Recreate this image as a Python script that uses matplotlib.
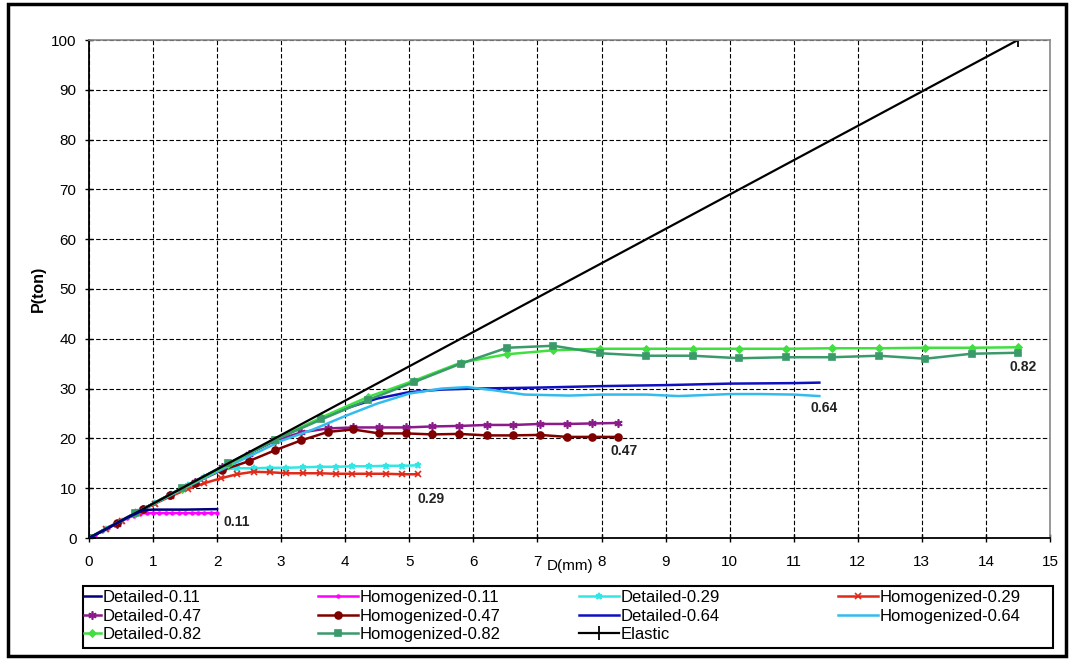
import matplotlib.pyplot as plt
from matplotlib.patches import Rectangle

plt.rcParams['font.family'] = ['Liberation Sans', 'DejaVu Sans']

# ---- data ----
x_d11 = [0, 0.3, 0.6, 0.85, 1.0, 1.5, 2.0]
y_d11 = [0, 2.0, 4.1, 5.6, 5.7, 5.7, 5.8]

x_h11 = [0, 0.1, 0.2, 0.3, 0.4, 0.5, 0.6, 0.7, 0.8, 0.9, 1.0,
         1.1, 1.2, 1.3, 1.4, 1.5, 1.6, 1.7, 1.8, 1.9, 2.0]
y_h11 = [0, 0.7, 1.4, 2.1, 2.7, 3.4, 4.0, 4.5, 4.9, 5.0, 5.0,
         5.0, 5.0, 5.0, 5.0, 5.0, 5.0, 5.0, 5.0, 5.0, 5.0]

x_29 = [0, 0.26, 0.51, 0.77, 1.03, 1.28, 1.54, 1.80, 2.06, 2.31, 2.57,
        2.83, 3.08, 3.34, 3.60, 3.85, 4.11, 4.37, 4.63, 4.88, 5.14]
y_d29 = [0, 1.8, 3.5, 5.3, 7.1, 8.8, 10.6, 12.3, 13.7, 14.0, 14.0,
         14.1, 14.1, 14.2, 14.3, 14.3, 14.4, 14.4, 14.5, 14.5, 14.6]
y_h29 = [0, 1.8, 3.5, 5.2, 6.9, 8.4, 9.8, 11.0, 12.0, 12.8, 13.3,
         13.2, 13.0, 13.0, 13.0, 12.9, 12.9, 12.9, 12.9, 12.8, 12.8]

x_47 = [0, 0.43, 0.85, 1.26, 1.65, 2.07, 2.49, 2.90, 3.31, 3.73, 4.12,
        4.53, 4.95, 5.36, 5.78, 6.21, 6.62, 7.04, 7.46, 7.85, 8.26]
y_d47 = [0, 2.9, 5.8, 8.6, 11.3, 14.2, 16.9, 19.5, 21.2, 22.0, 22.2,
         22.2, 22.2, 22.4, 22.5, 22.7, 22.7, 22.9, 22.9, 23.0, 23.1]
y_h47 = [0, 3.0, 5.9, 8.6, 11.1, 13.6, 15.4, 17.6, 19.6, 21.3, 21.8,
         21.0, 21.0, 20.8, 20.9, 20.6, 20.6, 20.7, 20.3, 20.3, 20.3]

x_d64 = [0, 1, 2, 3, 3.5, 4, 4.5, 5, 5.5, 6, 7, 8, 9, 10, 11, 11.4]
y_d64 = [0, 6.9, 13.8, 20.3, 23.3, 26.0, 28.0, 29.3, 29.8, 30.0, 30.2,
         30.5, 30.7, 31.0, 31.1, 31.2]
x_h64 = [0, 1, 2, 3, 3.5, 4, 4.5, 5, 5.5, 5.9, 6.3, 6.8, 7.5, 8, 8.7,
         9.2, 10, 10.5, 11, 11.4]
y_h64 = [0, 6.8, 13.3, 19.5, 21.8, 24.5, 27.0, 29.0, 30.0, 30.3, 29.7,
         28.8, 28.6, 28.8, 28.8, 28.5, 28.9, 28.9, 28.8, 28.5]

x_82 = [0, 0.725, 1.45, 2.175, 2.9, 3.625, 4.35, 5.075, 5.8, 6.525, 7.25,
        7.975, 8.7, 9.425, 10.15, 10.875, 11.6, 12.325, 13.05, 13.775, 14.5]
y_d82 = [0, 5.0, 9.9, 14.8, 19.7, 24.2, 28.3, 31.6, 35.2, 36.9, 37.7,
         38.0, 38.0, 38.0, 38.0, 38.0, 38.1, 38.1, 38.2, 38.2, 38.3]
y_h82 = [0, 5.0, 10.0, 15.0, 19.7, 23.8, 27.7, 31.3, 35.0, 38.2, 38.6,
         37.1, 36.6, 36.6, 36.1, 36.3, 36.3, 36.6, 36.0, 37.0, 37.2]

x_el = [0, 14.5]
y_el = [0, 100]

end_labels = ['0.11', '0.29', '0.47', '0.64', '0.82']
end_x = [2.1, 5.12, 8.14, 11.26, 14.37]
end_y = [3.3, 7.9, 17.5, 26.1, 34.3]

fig = plt.figure(figsize=(10.73, 6.63), dpi=100)
ax = fig.add_axes([89 / 1073, 1 - 538 / 663, (1050 - 89) / 1073, (538 - 40) / 663])

series = [
    ('Detailed-0.11', x_d11, y_d11, '#000080', None, 4),
    ('Homogenized-0.11', x_h11, y_h11, '#FF00FF', 'o', 2),
    ('Detailed-0.29', x_29, y_d29, '#33E6E6', '*', 5),
    ('Homogenized-0.29', x_29, y_h29, '#E02A1A', 'x', 4),
    ('Detailed-0.47', x_47, y_d47, '#8B1A8B', (6, 2, 0), 6),
    ('Homogenized-0.47', x_47, y_h47, '#800000', 'o', 5),
    ('Detailed-0.64', x_d64, y_d64, '#1010C0', None, 4),
    ('Homogenized-0.64', x_h64, y_h64, '#33BBEE', None, 4),
    ('Detailed-0.82', x_82, y_d82, '#40E040', 'D', 3.5),
    ('Homogenized-0.82', x_82, y_h82, '#3A9A6A', 's', 5),
]

handles = {}
for name, xs, ys, col, mk, ms in series:
    ln, = ax.plot(xs, ys, color=col, lw=1.8, marker=mk, ms=ms, mew=1.2)
    handles[name] = ln

# navy drawn over magenta for the 0.11 pair
handles['Detailed-0.11'].set_zorder(3)
el, = ax.plot(x_el, y_el, color='black', lw=1.6, marker='+', ms=10, mew=1.3)
handles['Elastic'] = el

for lab, xx, yy in zip(end_labels, end_x, end_y):
    ax.text(xx, yy, lab, fontsize=10, fontweight='bold', ha='left', va='center',
            color='#222222')

ax.set_xlim(0, 15)
ax.set_ylim(0, 100)
ax.set_xticks(range(0, 16))
ax.set_yticks(range(0, 101, 10))
ax.grid(True, color='black', lw=0.8, ls=(0, (4, 2)))
ax.tick_params(direction='inout', length=6, width=1, labelsize=11, colors='black')
ax.tick_params(axis='x', pad=9)
ax.tick_params(axis='y', pad=6)
for s in ['left', 'bottom']:
    ax.spines[s].set_linewidth(1.3)
for s in ['top', 'right']:
    ax.spines[s].set_color('#888888')
    ax.spines[s].set_linewidth(1.2)

ax.set_ylabel('P(ton)', fontsize=11.5, fontweight='bold', labelpad=4)
fig.text(547 / 1073, 1 - 566 / 663, 'D(mm)', fontsize=11, ha='left', va='center')

# legend laid out in four columns like the original
columns = [
    (['Detailed-0.11', 'Detailed-0.47', 'Detailed-0.82'], 84, 1.0),
    (['Homogenized-0.11', 'Homogenized-0.47', 'Homogenized-0.82'], 318, 2.4),
    (['Detailed-0.29', 'Detailed-0.64', 'Elastic'], 579, 2.4),
    (['Homogenized-0.29', 'Homogenized-0.64'], 838, 2.4),
]
for names, xpix, hl in columns:
    fig.legend([handles[n] for n in names], names, loc='upper left',
               bbox_to_anchor=(xpix / 1073, 1 - 590 / 663), frameon=False,
               fontsize=12, handlelength=hl, handletextpad=0.1,
               borderpad=0, borderaxespad=0, labelspacing=0.22)

fig.patches.append(Rectangle((83 / 1073, 1 - 648 / 663), (1053 - 83) / 1073, (648 - 586) / 663,
                             transform=fig.transFigure, fill=False, ec='black', lw=1.5))
fig.patches.append(Rectangle((8 / 1073, 1 - 656 / 663), (1066 - 8) / 1073, (656 - 4) / 663,
                             transform=fig.transFigure, fill=False, ec='black', lw=2.5))

fig.savefig('out.png', dpi=100)
